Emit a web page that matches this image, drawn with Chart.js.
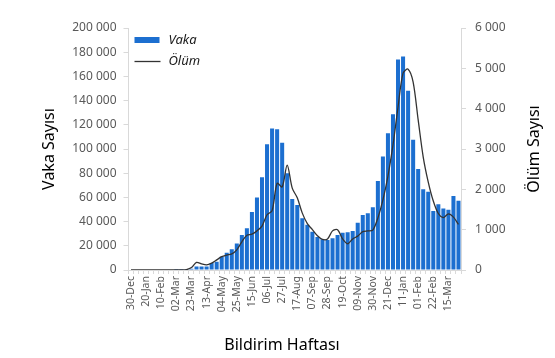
<!DOCTYPE html>
<html>
<head>
<meta charset="utf-8">
<script src="https://cdn.jsdelivr.net/npm/chart.js@4.4.1/dist/chart.umd.min.js"></script>
<style>
    html, body { margin: 0; padding: 0; background: #fff; }
    canvas { display: block; }
</style>
</head>
<body>
<canvas id="chart" width="555" height="358"></canvas>
<script>
// haftalar (bildirim haftası)
const weeks = [
    '30-Dec', '06-Jan', '13-Jan', '20-Jan', '27-Jan', '03-Feb', '10-Feb', '17-Feb', '24-Feb', '02-Mar',
    '09-Mar', '16-Mar', '23-Mar', '30-Mar', '06-Apr', '13-Apr', '20-Apr', '27-Apr', '04-May', '11-May',
    '18-May', '25-May', '01-Jun', '08-Jun', '15-Jun', '22-Jun', '29-Jun', '06-Jul', '13-Jul', '20-Jul',
    '27-Jul', '03-Aug', '10-Aug', '17-Aug', '24-Aug', '31-Aug', '07-Sep', '14-Sep', '21-Sep', '28-Sep',
    '05-Oct', '12-Oct', '19-Oct', '26-Oct', '02-Nov', '09-Nov', '16-Nov', '23-Nov', '30-Nov', '07-Dec',
    '14-Dec', '21-Dec', '28-Dec', '04-Jan', '11-Jan', '18-Jan', '25-Jan', '01-Feb', '08-Feb', '15-Feb',
    '22-Feb', '01-Mar', '08-Mar', '15-Mar', '22-Mar', '29-Mar'
];

const vaka = [
    0, 0, 0, 0, 0, 0, 0, 0, 500, 800,
    800, 600, 1000, 2800, 2800, 2900, 5800, 6900, 11000, 14300,
    17100, 22000, 28900, 34500, 47900, 60000, 76600, 104000, 117000, 116300,
    105200, 80000, 58700, 53700, 42800, 37500, 31700, 27200, 25400, 24800,
    26200, 28900, 30800, 31100, 32200, 39000, 45500, 46800, 51800, 73500,
    93800, 113000, 128700, 174000, 176500, 148200, 107700, 83500, 66700, 64600,
    48800, 54300, 50800, 49800, 61200, 57300
];

const olum = [
    0, 0, 0, 0, 0, 0, 0, 0, 0, 0,
    0, 10, 60, 190, 150, 125, 170, 250, 330, 370,
    400, 500, 700, 860, 890, 970, 1090, 1370, 1470, 2150,
    2060, 2600, 2030, 1790, 1410, 1150, 1000, 850, 760, 770,
    970, 1000, 770, 650, 770, 840, 950, 970, 990, 1290,
    1740, 2330, 3100, 4040, 4880, 4980, 4660, 3720, 2800, 2180,
    1710, 1400, 1300, 1390, 1310, 1130
];

const seriesNames = ['Vaka', 'Ölüm'];
const axisTitles = ['Vaka Sayısı', 'Ölüm Sayısı', 'Bildirim Haftası'];

const font = '"Noto Sans", "Open Sans", sans-serif';
const gray = '#d9d9d9';

function spaced(v) {
    return String(v).replace(/\B(?=(\d{3})+(?!\d))/g, ' ');
}

// lejant ve sağ/alt eksen başlıkları
const extras = {
    id: 'extras',
    afterDraw(chart) {
        const { ctx, chartArea } = chart;
        ctx.save();
        const x = chartArea.left + 6;
        chart.data.datasets.forEach((ds, i) => {
            const y = chartArea.top + 12 + i * 21;
            if (ds.type === 'bar') {
                ctx.fillStyle = ds.backgroundColor;
                ctx.fillRect(x, y - 3, 25, 6);
            } else {
                ctx.strokeStyle = ds.borderColor;
                ctx.lineWidth = 1.3;
                ctx.beginPath();
                ctx.moveTo(x, y + 0.5);
                ctx.lineTo(x + 26, y + 0.5);
                ctx.stroke();
            }
            ctx.fillStyle = '#1a1a1a';
            ctx.font = 'italic 13px ' + font;
            ctx.textAlign = 'left';
            ctx.textBaseline = 'middle';
            ctx.fillText(ds.label, x + 34, y);
        });

        ctx.fillStyle = '#000';
        ctx.font = '16px ' + font;
        ctx.textAlign = 'center';
        ctx.textBaseline = 'middle';
        ctx.fillText(axisTitles[2], 282, 345);

        ctx.translate(534, (chartArea.top + chartArea.bottom) / 2);
        ctx.rotate(-Math.PI / 2);
        ctx.fillText(axisTitles[1], 0, 0);
        ctx.restore();
    }
};

new Chart(document.getElementById('chart'), {
    data: {
        labels: weeks,
        datasets: [{
            type: 'bar',
            label: seriesNames[0],
            data: vaka,
            backgroundColor: '#1c6fd0',
            barPercentage: 0.8,
            categoryPercentage: 1,
            yAxisID: 'y',
            order: 2
        }, {
            type: 'line',
            label: seriesNames[1],
            data: olum,
            borderColor: '#333333',
            borderWidth: 1.3,
            pointRadius: 0,
            tension: 0.3,
            yAxisID: 'y1',
            order: 1
        }]
    },
    options: {
        responsive: false,
        animation: false,
        layout: { padding: { top: 28, left: 0, right: 0, bottom: 0 } },
        plugins: {
            legend: { display: false },
            tooltip: { enabled: false }
        },
        scales: {
            x: {
                afterFit: s => { s.height = 88; },
                grid: { drawOnChartArea: false, color: gray, tickLength: 4, offset: true },
                border: { color: gray },
                ticks: {
                    autoSkip: false,
                    minRotation: 90,
                    maxRotation: 90,
                    padding: 2,
                    color: '#595959',
                    font: { family: font, size: 10.5 },
                    callback: (v, i) => i % 3 === 0 ? weeks[i] : ''
                }
            },
            y: {
                position: 'left',
                min: 0,
                max: 200000,
                afterFit: s => { s.width = 128.5; },
                grid: { drawOnChartArea: false, color: gray, tickLength: 5 },
                border: { color: gray },
                ticks: {
                    stepSize: 20000,
                    padding: 7,
                    color: '#595959',
                    font: { family: font, size: 12 },
                    callback: v => spaced(v)
                },
                title: {
                    display: true,
                    text: axisTitles[0],
                    color: '#000',
                    font: { family: font, size: 16 },
                    padding: { top: 40, bottom: 0 }
                }
            },
            y1: {
                position: 'right',
                min: 0,
                max: 6000,
                afterFit: s => { s.width = 94; },
                grid: { drawOnChartArea: false, color: gray, tickLength: 5 },
                border: { color: gray },
                ticks: {
                    stepSize: 1000,
                    padding: 9,
                    color: '#595959',
                    font: { family: font, size: 12 },
                    callback: v => spaced(v)
                }
            }
        }
    },
    plugins: [extras]
});
</script>
</body>
</html>
